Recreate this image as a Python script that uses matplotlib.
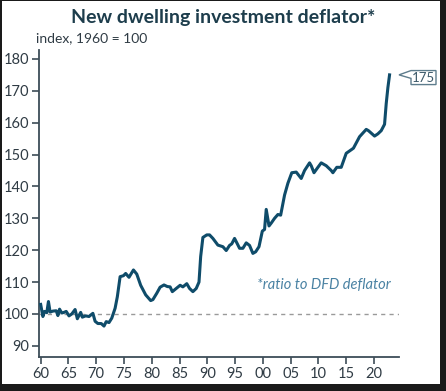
import numpy as np
import matplotlib
matplotlib.use("Agg")
from matplotlib import pyplot as plt
from matplotlib.patches import Polygon, Rectangle

# values (year, index)
years = [1960.0, 1960.4, 1960.7, 1961.1, 1961.4, 1961.7, 1962.2, 1962.8, 1963.1, 1963.4,
         1963.8, 1964.2, 1964.6, 1965.1, 1965.6, 1966.2, 1966.6, 1967.2, 1967.5, 1968.1,
         1968.7, 1969.4, 1969.8, 1970.3, 1970.9, 1971.4, 1971.8, 1972.3, 1972.8, 1973.4,
         1973.8, 1974.3, 1974.9, 1975.3, 1975.9, 1976.7, 1977.3, 1978.0, 1978.9, 1979.8,
         1980.2, 1980.9, 1981.5, 1982.2, 1982.8, 1983.3, 1983.7, 1984.4, 1985.1, 1985.6,
         1986.3, 1986.8, 1987.4, 1988.0, 1988.5, 1988.8, 1989.2, 1989.9, 1990.4, 1991.0,
         1991.9, 1992.8, 1993.4, 1994.0, 1994.4, 1994.9, 1995.4, 1995.8, 1996.4, 1997.0,
         1997.6, 1998.2, 1998.7, 1999.3, 1999.9, 2000.3, 2000.6, 2001.1, 2001.5, 2002.1,
         2002.7, 2003.2, 2003.9, 2004.5, 2005.2, 2006.0, 2006.9, 2007.5, 2008.4, 2008.7,
         2009.2, 2009.9, 2010.5, 2011.4, 2012.3, 2012.6, 2013.3, 2014.1, 2015.0, 2015.9,
         2016.3, 2017.4, 2018.6, 2019.0, 2020.1, 2020.7, 2021.3, 2021.9, 2022.2, 2022.5,
         2022.8]
index = [103.0, 99.2, 100.8, 100.4, 103.9, 100.6, 100.9, 101.0, 99.5, 101.5,
         100.3, 100.5, 100.8, 99.4, 100.0, 101.4, 98.5, 100.5, 99.0, 99.4,
         99.2, 100.2, 97.7, 97.0, 97.0, 96.2, 97.6, 97.3, 98.7, 101.8,
         105.4, 111.7, 112.0, 112.7, 111.5, 113.8, 112.5, 109.0, 106.0, 104.2,
         104.5, 106.5, 108.4, 109.1, 108.6, 108.5, 107.0, 108.0, 109.0, 108.5,
         109.5, 108.0, 107.0, 108.0, 110.0, 118.0, 124.0, 124.8, 124.8, 123.7,
         121.6, 121.1, 119.9, 121.5, 122.0, 123.7, 122.0, 120.6, 120.6, 122.3,
         121.5, 119.0, 119.5, 121.1, 126.0, 126.5, 132.8, 127.6, 128.5, 130.0,
         131.2, 131.0, 137.3, 141.0, 144.3, 144.5, 142.5, 145.0, 147.4, 146.5,
         144.3, 146.0, 147.4, 146.5, 145.0, 144.3, 146.0, 146.0, 150.4, 151.5,
         152.0, 155.6, 157.9, 157.5, 155.8, 156.5, 157.5, 159.5, 166.0, 171.0,
         175.0]

xticks = list(range(1960, 2021, 5))
xlabels = ["60", "65", "70", "75", "80", "85", "90", "95", "00", "05", "10", "15", "20"]
yticks = list(range(90, 181, 10))

line_col = "#0f4c6a"
axis_col = "#3d4d58"
text_col = "#2f3b44"

plt.rcParams['font.family'] = ['Lato', 'DejaVu Sans']

W, H = 446, 391
fig = plt.figure(figsize=(W / 100, H / 100), dpi=100)
fig.patch.set_facecolor("#1a1a1a")
# white card inside the dark frame
fig.patches.append(Rectangle((2 / W, 7 / H), 438 / W, 383 / H, transform=fig.transFigure,
                             facecolor="white", edgecolor="none", zorder=-10))

ax = fig.add_axes([39 / W, 34 / H, 360 / W, 307 / H])
ax.set_zorder(1)
ax.set_facecolor("none")
ax.plot(years, index, color=line_col, lw=2.2, solid_joinstyle="round", zorder=3)
ax.axhline(100, color="#9a9a9a", lw=1.0, dashes=(3, 3), zorder=1)

ax.set_xlim(1959.7, 2024.5)
ax.set_ylim(86.5, 182.8)
ax.set_xticks(xticks)
ax.set_xticklabels(xlabels)
ax.set_yticks(yticks)
for s in ["top", "right"]:
    ax.spines[s].set_visible(False)
for s in ["left", "bottom"]:
    ax.spines[s].set_color(axis_col)
    ax.spines[s].set_linewidth(1.3)
ax.tick_params(axis="both", colors=axis_col, width=1.2, length=5, labelsize=10.5,
               labelcolor=text_col, pad=2)

fig.text(223 / W, 1 - 18 / H, "New dwelling investment deflator*", ha="center", va="center",
         fontsize=14, fontweight="bold", color="#1d3d4c")
fig.text(36 / W, 1 - 38 / H, "index, 1960 = 100", ha="left", va="center",
         fontsize=10, color=text_col)
ax.text(1998.9, 109.2, "*ratio to DFD deflator", ha="left", va="center",
        fontsize=10.5, style="italic", color="#4a82a3")

# callout with last value
fig.canvas.draw()
tx, ty = ax.transData.transform((ax.get_xlim()[1], index[-1]))
shape = np.array([[0, 0], [12, 4.3], [37, 4.3], [37, -9.7], [12, -9.7], [12, -3.5]])
pts = fig.transFigure.inverted().transform(shape + [tx, ty])
fig.patches.append(Polygon(pts, closed=True, transform=fig.transFigure, facecolor="white",
                           edgecolor="#5d7c8c", lw=1.0, zorder=4))
cx, cy = fig.transFigure.inverted().transform((tx + 24.5, ty - 2.7))
fig.text(cx, cy, f"{index[-1]:.0f}", ha="center", va="center", fontsize=9.5,
         color="#3d5a6a", zorder=5)

fig.savefig("out.png", dpi=100, facecolor=fig.get_facecolor())
